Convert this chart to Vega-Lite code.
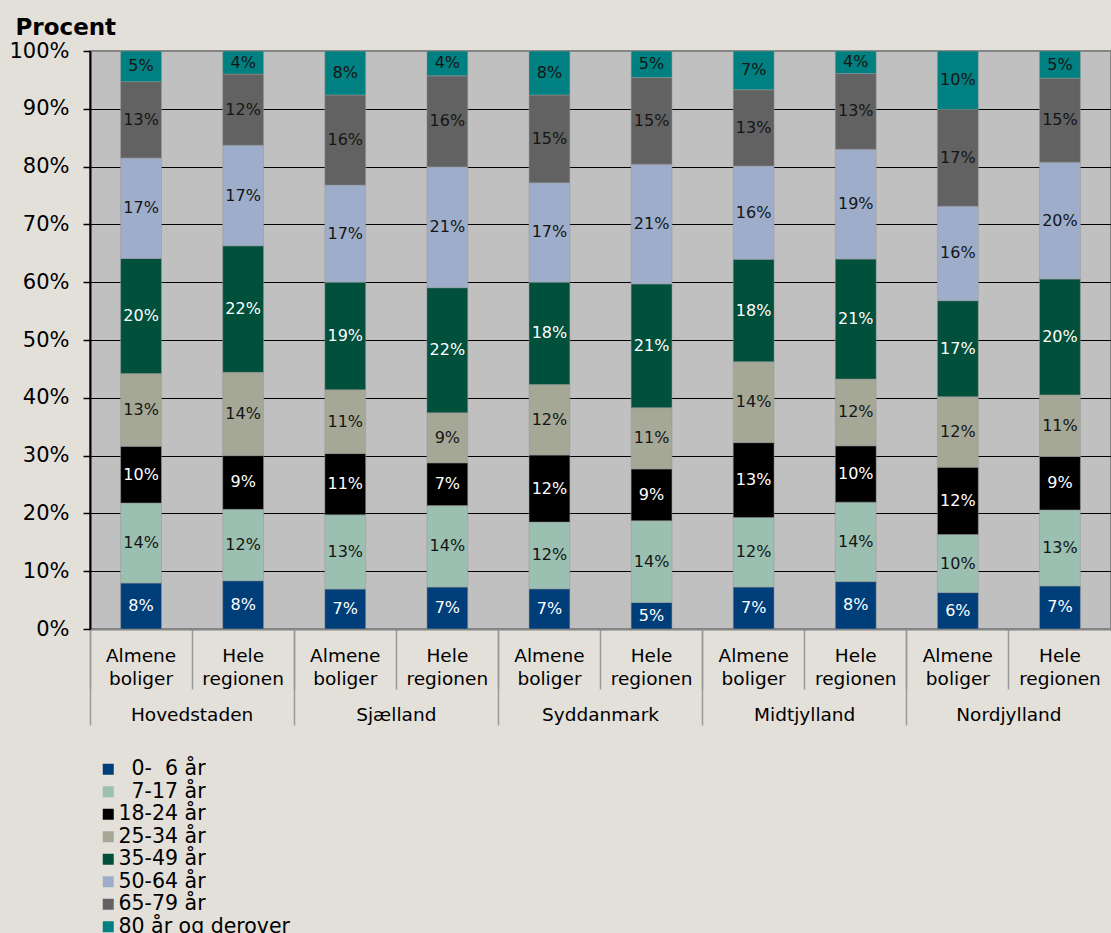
{
 "$schema": "https://vega.github.io/schema/vega-lite/v6.json",
 "width": 1021,
 "height": 578,
 "autosize": {"type": "none"},
 "padding": {"left": 90, "top": 51, "right": 0, "bottom": 304},
 "background": "#e3dfd9",
 "config": {"font": "DejaVu Sans", "view": {"fill": "#c0c0c0", "stroke": "#858585", "strokeWidth": 2}},
 "data": {"values": [
  {"bar":"Hovedstaden|Almene boliger","region":"Hovedstaden","age":"\u200b\u00a0\u00a00-\u00a0\u00a06 år","k":1,"v":0.0795},
  {"bar":"Hovedstaden|Almene boliger","region":"Hovedstaden","age":"\u200b\u00a0\u00a07-17 år","k":2,"v":0.1385},
  {"bar":"Hovedstaden|Almene boliger","region":"Hovedstaden","age":"18-24 år","k":3,"v":0.098},
  {"bar":"Hovedstaden|Almene boliger","region":"Hovedstaden","age":"25-34 år","k":4,"v":0.126},
  {"bar":"Hovedstaden|Almene boliger","region":"Hovedstaden","age":"35-49 år","k":5,"v":0.199},
  {"bar":"Hovedstaden|Almene boliger","region":"Hovedstaden","age":"50-64 år","k":6,"v":0.174},
  {"bar":"Hovedstaden|Almene boliger","region":"Hovedstaden","age":"65-79 år","k":7,"v":0.132},
  {"bar":"Hovedstaden|Almene boliger","region":"Hovedstaden","age":"80 år og derover","k":8,"v":0.053},
  {"bar":"Hovedstaden|Hele regionen","region":"Hovedstaden","age":"\u200b\u00a0\u00a00-\u00a0\u00a06 år","k":1,"v":0.0835},
  {"bar":"Hovedstaden|Hele regionen","region":"Hovedstaden","age":"\u200b\u00a0\u00a07-17 år","k":2,"v":0.1235},
  {"bar":"Hovedstaden|Hele regionen","region":"Hovedstaden","age":"18-24 år","k":3,"v":0.093},
  {"bar":"Hovedstaden|Hele regionen","region":"Hovedstaden","age":"25-34 år","k":4,"v":0.144},
  {"bar":"Hovedstaden|Hele regionen","region":"Hovedstaden","age":"35-49 år","k":5,"v":0.219},
  {"bar":"Hovedstaden|Hele regionen","region":"Hovedstaden","age":"50-64 år","k":6,"v":0.174},
  {"bar":"Hovedstaden|Hele regionen","region":"Hovedstaden","age":"65-79 år","k":7,"v":0.123},
  {"bar":"Hovedstaden|Hele regionen","region":"Hovedstaden","age":"80 år og derover","k":8,"v":0.040},
  {"bar":"Sjælland|Almene boliger","region":"Sjælland","age":"\u200b\u00a0\u00a00-\u00a0\u00a06 år","k":1,"v":0.069},
  {"bar":"Sjælland|Almene boliger","region":"Sjælland","age":"\u200b\u00a0\u00a07-17 år","k":2,"v":0.1285},
  {"bar":"Sjælland|Almene boliger","region":"Sjælland","age":"18-24 år","k":3,"v":0.106},
  {"bar":"Sjælland|Almene boliger","region":"Sjælland","age":"25-34 år","k":4,"v":0.1105},
  {"bar":"Sjælland|Almene boliger","region":"Sjælland","age":"35-49 år","k":5,"v":0.186},
  {"bar":"Sjælland|Almene boliger","region":"Sjælland","age":"50-64 år","k":6,"v":0.168},
  {"bar":"Sjælland|Almene boliger","region":"Sjælland","age":"65-79 år","k":7,"v":0.156},
  {"bar":"Sjælland|Almene boliger","region":"Sjælland","age":"80 år og derover","k":8,"v":0.076},
  {"bar":"Sjælland|Hele regionen","region":"Sjælland","age":"\u200b\u00a0\u00a00-\u00a0\u00a06 år","k":1,"v":0.0725},
  {"bar":"Sjælland|Hele regionen","region":"Sjælland","age":"\u200b\u00a0\u00a07-17 år","k":2,"v":0.141},
  {"bar":"Sjælland|Hele regionen","region":"Sjælland","age":"18-24 år","k":3,"v":0.074},
  {"bar":"Sjælland|Hele regionen","region":"Sjælland","age":"25-34 år","k":4,"v":0.0865},
  {"bar":"Sjælland|Hele regionen","region":"Sjælland","age":"35-49 år","k":5,"v":0.2165},
  {"bar":"Sjælland|Hele regionen","region":"Sjælland","age":"50-64 år","k":6,"v":0.209},
  {"bar":"Sjælland|Hele regionen","region":"Sjælland","age":"65-79 år","k":7,"v":0.1575},
  {"bar":"Sjælland|Hele regionen","region":"Sjælland","age":"80 år og derover","k":8,"v":0.043},
  {"bar":"Syddanmark|Almene boliger","region":"Syddanmark","age":"\u200b\u00a0\u00a00-\u00a0\u00a06 år","k":1,"v":0.0695},
  {"bar":"Syddanmark|Almene boliger","region":"Syddanmark","age":"\u200b\u00a0\u00a07-17 år","k":2,"v":0.1155},
  {"bar":"Syddanmark|Almene boliger","region":"Syddanmark","age":"18-24 år","k":3,"v":0.116},
  {"bar":"Syddanmark|Almene boliger","region":"Syddanmark","age":"25-34 år","k":4,"v":0.122},
  {"bar":"Syddanmark|Almene boliger","region":"Syddanmark","age":"35-49 år","k":5,"v":0.177},
  {"bar":"Syddanmark|Almene boliger","region":"Syddanmark","age":"50-64 år","k":6,"v":0.172},
  {"bar":"Syddanmark|Almene boliger","region":"Syddanmark","age":"65-79 år","k":7,"v":0.152},
  {"bar":"Syddanmark|Almene boliger","region":"Syddanmark","age":"80 år og derover","k":8,"v":0.076},
  {"bar":"Syddanmark|Hele regionen","region":"Syddanmark","age":"\u200b\u00a0\u00a00-\u00a0\u00a06 år","k":1,"v":0.046},
  {"bar":"Syddanmark|Hele regionen","region":"Syddanmark","age":"\u200b\u00a0\u00a07-17 år","k":2,"v":0.1415},
  {"bar":"Syddanmark|Hele regionen","region":"Syddanmark","age":"18-24 år","k":3,"v":0.0895},
  {"bar":"Syddanmark|Hele regionen","region":"Syddanmark","age":"25-34 år","k":4,"v":0.106},
  {"bar":"Syddanmark|Hele regionen","region":"Syddanmark","age":"35-49 år","k":5,"v":0.214},
  {"bar":"Syddanmark|Hele regionen","region":"Syddanmark","age":"50-64 år","k":6,"v":0.207},
  {"bar":"Syddanmark|Hele regionen","region":"Syddanmark","age":"65-79 år","k":7,"v":0.150},
  {"bar":"Syddanmark|Hele regionen","region":"Syddanmark","age":"80 år og derover","k":8,"v":0.046},
  {"bar":"Midtjylland|Almene boliger","region":"Midtjylland","age":"\u200b\u00a0\u00a00-\u00a0\u00a06 år","k":1,"v":0.0725},
  {"bar":"Midtjylland|Almene boliger","region":"Midtjylland","age":"\u200b\u00a0\u00a07-17 år","k":2,"v":0.1205},
  {"bar":"Midtjylland|Almene boliger","region":"Midtjylland","age":"18-24 år","k":3,"v":0.1295},
  {"bar":"Midtjylland|Almene boliger","region":"Midtjylland","age":"25-34 år","k":4,"v":0.140},
  {"bar":"Midtjylland|Almene boliger","region":"Midtjylland","age":"35-49 år","k":5,"v":0.177},
  {"bar":"Midtjylland|Almene boliger","region":"Midtjylland","age":"50-64 år","k":6,"v":0.1615},
  {"bar":"Midtjylland|Almene boliger","region":"Midtjylland","age":"65-79 år","k":7,"v":0.132},
  {"bar":"Midtjylland|Almene boliger","region":"Midtjylland","age":"80 år og derover","k":8,"v":0.067},
  {"bar":"Midtjylland|Hele regionen","region":"Midtjylland","age":"\u200b\u00a0\u00a00-\u00a0\u00a06 år","k":1,"v":0.082},
  {"bar":"Midtjylland|Hele regionen","region":"Midtjylland","age":"\u200b\u00a0\u00a07-17 år","k":2,"v":0.1375},
  {"bar":"Midtjylland|Hele regionen","region":"Midtjylland","age":"18-24 år","k":3,"v":0.0975},
  {"bar":"Midtjylland|Hele regionen","region":"Midtjylland","age":"25-34 år","k":4,"v":0.1155},
  {"bar":"Midtjylland|Hele regionen","region":"Midtjylland","age":"35-49 år","k":5,"v":0.2075},
  {"bar":"Midtjylland|Hele regionen","region":"Midtjylland","age":"50-64 år","k":6,"v":0.190},
  {"bar":"Midtjylland|Hele regionen","region":"Midtjylland","age":"65-79 år","k":7,"v":0.131},
  {"bar":"Midtjylland|Hele regionen","region":"Midtjylland","age":"80 år og derover","k":8,"v":0.039},
  {"bar":"Nordjylland|Almene boliger","region":"Nordjylland","age":"\u200b\u00a0\u00a00-\u00a0\u00a06 år","k":1,"v":0.063},
  {"bar":"Nordjylland|Almene boliger","region":"Nordjylland","age":"\u200b\u00a0\u00a07-17 år","k":2,"v":0.1005},
  {"bar":"Nordjylland|Almene boliger","region":"Nordjylland","age":"18-24 år","k":3,"v":0.1165},
  {"bar":"Nordjylland|Almene boliger","region":"Nordjylland","age":"25-34 år","k":4,"v":0.122},
  {"bar":"Nordjylland|Almene boliger","region":"Nordjylland","age":"35-49 år","k":5,"v":0.166},
  {"bar":"Nordjylland|Almene boliger","region":"Nordjylland","age":"50-64 år","k":6,"v":0.1635},
  {"bar":"Nordjylland|Almene boliger","region":"Nordjylland","age":"65-79 år","k":7,"v":0.1675},
  {"bar":"Nordjylland|Almene boliger","region":"Nordjylland","age":"80 år og derover","k":8,"v":0.101},
  {"bar":"Nordjylland|Hele regionen","region":"Nordjylland","age":"\u200b\u00a0\u00a00-\u00a0\u00a06 år","k":1,"v":0.0745},
  {"bar":"Nordjylland|Hele regionen","region":"Nordjylland","age":"\u200b\u00a0\u00a07-17 år","k":2,"v":0.1315},
  {"bar":"Nordjylland|Hele regionen","region":"Nordjylland","age":"18-24 år","k":3,"v":0.0925},
  {"bar":"Nordjylland|Hele regionen","region":"Nordjylland","age":"25-34 år","k":4,"v":0.1065},
  {"bar":"Nordjylland|Hele regionen","region":"Nordjylland","age":"35-49 år","k":5,"v":0.2005},
  {"bar":"Nordjylland|Hele regionen","region":"Nordjylland","age":"50-64 år","k":6,"v":0.202},
  {"bar":"Nordjylland|Hele regionen","region":"Nordjylland","age":"65-79 år","k":7,"v":0.1455},
  {"bar":"Nordjylland|Hele regionen","region":"Nordjylland","age":"80 år og derover","k":8,"v":0.047}
 ]},
 "layer": [
  {"layer": [
   {"mark": {"type": "bar", "width": {"band": 0.4}, "stroke": "#969696", "strokeWidth": 0.5},
    "encoding": {
     "x": {"field": "bar", "type": "nominal", "sort": null,
       "scale": {"paddingInner": 0, "paddingOuter": 0},
       "axis": {"title": null, "orient": "bottom", "bandPosition": 0, "labelOffset": 0,
         "labelExpr": "split(split(datum.value, '|')[1], ' ')",
         "labelFontSize": 18.5, "labelColor": "#000", "labelLineHeight": 23, "labelPadding": -43,
         "labelAngle": 0, "labelOverlap": false, "labelBound": false,
         "tickSize": 60, "tickColor": "#9a9a9a", "tickWidth": 1.5,
         "domainColor": "#858585", "domainWidth": 2, "grid": false}},
     "y": {"field": "v", "type": "quantitative", "stack": "zero",
       "scale": {"domain": [0, 1], "nice": false},
       "axis": {"title": "Procent", "titleAngle": 0, "titleAlign": "left", "titleBaseline": "alphabetic",
         "titleX": -75, "titleY": -17, "titleFontSize": 23, "titleFontWeight": "bold", "titleColor": "#000",
         "values": [0, 0.1, 0.2, 0.3, 0.4, 0.5, 0.6, 0.7, 0.8, 0.9, 1], "format": ".0%",
         "labelFontSize": 21, "labelColor": "#000", "labelPadding": 14,
         "tickSize": 7, "tickColor": "#000", "tickWidth": 1.5,
         "domainColor": "#000", "domainWidth": 2,
         "grid": true, "gridColor": {"condition": {"test": "datum.value == 1", "value": "#858585"}, "value": "#000"}, "gridWidth": 1}},
     "color": {"field": "age", "type": "nominal",
       "scale": {"domain": ["\u200b\u00a0\u00a00-\u00a0\u00a06 år", "\u200b\u00a0\u00a07-17 år", "18-24 år", "25-34 år", "35-49 år", "50-64 år", "65-79 år", "80 år og derover"],
                 "range": ["#003e79", "#9bbfb0", "#000000", "#a5a897", "#00503b", "#9eaeca", "#626262", "#008080"]},
       "legend": {"title": null, "orient": "none", "legendX": 8, "legendY": 708, "direction": "vertical",
         "symbolType": "square", "symbolSize": 121, "symbolStrokeWidth": 0, "labelFontSize": 20.5,
         "labelColor": "#000", "rowPadding": 1.5, "labelOffset": 0, "padding": 0, "labelLimit": 400}},
     "order": {"field": "k", "type": "quantitative", "sort": "ascending"}
    }},
   {"mark": {"type": "text", "fontSize": 16},
    "encoding": {
     "x": {"field": "bar", "type": "nominal", "sort": null},
     "y": {"field": "v", "type": "quantitative", "stack": "zero", "bandPosition": 0.5},
     "detail": {"field": "age", "type": "nominal"},
     "order": {"field": "k", "type": "quantitative", "sort": "ascending"},
     "text": {"field": "v", "type": "quantitative", "format": ".0%"},
     "color": {"condition": {"test": "datum.k == 1 || datum.k == 3 || datum.k == 5", "value": "#ffffff"}, "value": "#151515"}
    }}
  ]},
  {"mark": {"type": "tick", "opacity": 0},
   "encoding": {
    "x": {"field": "region", "type": "nominal", "sort": null,
      "scale": {"paddingInner": 0, "paddingOuter": 0},
      "axis": {"title": null, "orient": "bottom", "bandPosition": 0, "labelOffset": 0,
        "labelFontSize": 18.5, "labelColor": "#000", "labelAngle": 0, "labelBaseline": "middle",
        "labelPadding": -11, "labelOverlap": false, "labelBound": false,
        "tickSize": 96, "tickColor": "#9a9a9a", "tickWidth": 1.5, "domain": false, "grid": false}}
   }}
 ],
 "resolve": {"scale": {"x": "independent"}, "axis": {"x": "independent"}}
}
